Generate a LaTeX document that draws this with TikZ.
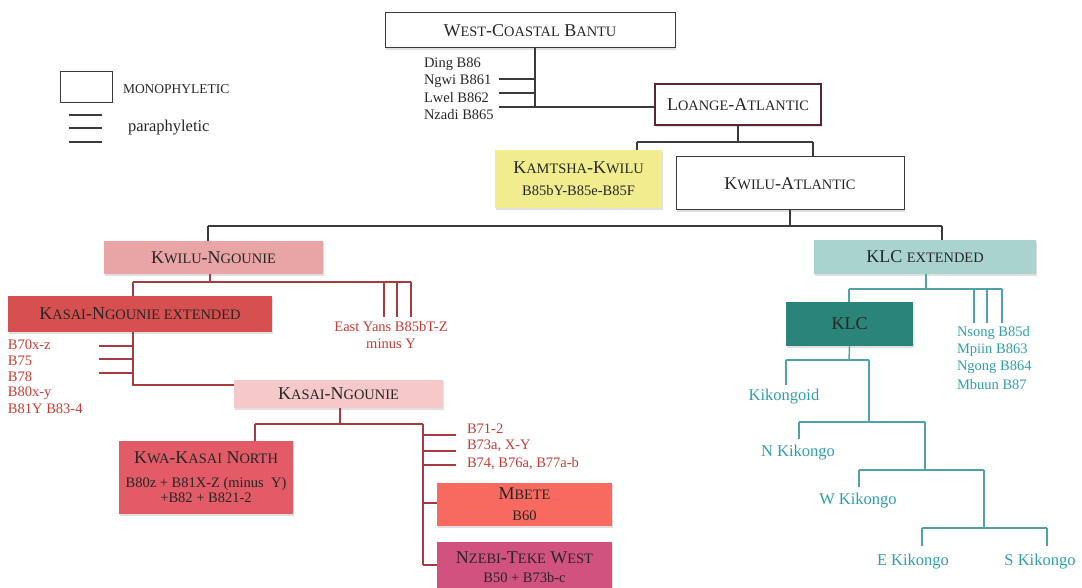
\documentclass[tikz,border=0pt]{standalone}
\usepackage{fontspec}
\setmainfont{Liberation Serif}
\usetikzlibrary{shadows}

\definecolor{ink}{HTML}{262626}
\definecolor{blkline}{HTML}{3A3A3A}
\definecolor{maroon}{HTML}{5E2430}
\definecolor{kamtsha}{HTML}{F1ED8E}
\definecolor{kwng}{HTML}{E9A4A6}
\definecolor{kne}{HTML}{D6504F}
\definecolor{kasng}{HTML}{F5C8CA}
\definecolor{kkn}{HTML}{E25B67}
\definecolor{mbete}{HTML}{F86A5F}
\definecolor{nzebi}{HTML}{D2527F}
\definecolor{klcext}{HTML}{A9D3CF}
\definecolor{klc}{HTML}{2B8479}
\definecolor{redline}{HTML}{A53A40}
\definecolor{redtxt}{HTML}{C63B35}
\definecolor{tealline}{HTML}{4FA2A6}
\definecolor{tealtxt}{HTML}{2E9FA9}

\newcommand\headfont{\fontsize{18}{20}\selectfont}
\newcommand\bodyfont{\fontsize{14.5}{17}\selectfont}
\newcommand\labfont{\fontsize{14.5}{17}\selectfont}
\newcommand\kikfont{\fontsize{16.5}{19}\selectfont}
% fake small capitals: the lower-case part of a name set as smaller capitals
\newcommand\scx[1]{{\fontsize{14.4}{16}\selectfont #1}}

\begin{document}
\begin{tikzpicture}[x=1pt,y=-1pt,
  every node/.style={inner sep=0pt, outer sep=0pt},
  box/.style={rectangle, align=center, font=\headfont, text=ink,
    drop shadow={shadow xshift=0.8pt, shadow yshift=-1.8pt, opacity=0.25}},
  whitebox/.style={box, fill=white, draw=blkline, line width=1pt},
  blk/.style={draw=blkline, line width=1.2pt},
  red/.style={draw=redline, line width=1.2pt},
  teal/.style={draw=tealline, line width=1.4pt},
  labblack/.style={anchor=west, font=\labfont, text=ink},
  labred/.style={anchor=west, font=\labfont, text=redtxt},
  labteal/.style={anchor=west, font=\labfont, text=tealtxt},
  kik/.style={font=\kikfont, text=tealtxt},
]
\useasboundingbox (0,0) rectangle (1082,588);
\clip (0,0) rectangle (1082,588);

% ---------- legend ----------
\node[draw=blkline, line width=0.9pt, minimum width=52pt, minimum height=31pt] (legbox) at (86,86.5) {};
\node[anchor=west, font=\fontsize{13.5}{15}\selectfont, text=ink] (legmono) at (123,89) {MONOPHYLETIC};
\node[anchor=west, font=\fontsize{16.5}{18}\selectfont, text=ink] (legpara) at (128,128) {paraphyletic};
\foreach \yy in {115,128,142} \draw[blk] (69,\yy) -- (102,\yy);

% ---------- top of the tree ----------
\node[whitebox, minimum width=290pt, minimum height=35pt] (wcb) at (530,30.5)
  {W\scx{EST}-C\scx{OASTAL} B\scx{ANTU}};
\node[whitebox, draw=maroon, line width=1.6pt, minimum width=166pt, minimum height=41pt] (loange) at (738,104.5)
  {L\scx{OANGE}-A\scx{TLANTIC}};
\node[box, fill=kamtsha, minimum width=167pt, minimum height=58pt] (kamtsha) at (578.5,179)
  {K\scx{AMTSHA}-K\scx{WILU}\\[2pt]\bodyfont B85bY-B85e-B85F};
\node[whitebox, minimum width=228pt, minimum height=53pt] (kwat) at (790,183.5)
  {K\scx{WILU}-A\scx{TLANTIC}};

\node[labblack] (ding) at (424,64) {Ding B86};
\node[labblack] (ngwi) at (424,81) {Ngwi B861};
\node[labblack] (lwel) at (424,98) {Lwel B862};
\node[labblack] (nzadi) at (424,115) {Nzadi B865};

\coordinate (wj) at (535,107);
\draw[blk] (wcb.south -| wj) -- (wj) -- (wj -| loange.west);
\draw[blk] (499,79) -- (wj |- 0,79);
\draw[blk] (499,93) -- (wj |- 0,93);
\draw[blk] (499,107) -- (wj);

\coordinate (lj) at (738,142);
\draw[blk] (loange.south) -- (lj);
\draw[blk] (637,142) -- (813,142);
\draw[blk] (637,142) -- (637,0 |- kamtsha.north);
\draw[blk] (813,142) -- (813,0 |- kwat.north);

% ---------- first split ----------
\node[box, fill=kwng, minimum width=219pt, minimum height=33pt] (kwng) at (213.5,257.5)
  {K\scx{WILU}-N\scx{GOUNIE}};
\node[box, fill=klcext, minimum width=222pt, minimum height=34pt] (klcext) at (925,257)
  {KLC \scx{EXTENDED}};

\draw[blk] (kwat.south) -- (790,226);
\draw[blk] (208,226) -- (942,226);
\draw[blk] (208,226) -- (208,0 |- kwng.north);
\draw[blk] (942,226) -- (942,0 |- klcext.north);

% ---------- Kwilu-Ngounie branch ----------
\node[box, fill=kne, minimum width=264pt, minimum height=36pt] (kne) at (140,314)
  {K\scx{ASAI}-N\scx{GOUNIE EXTENDED}};
\node[anchor=center, align=center, font=\labfont, text=redtxt] (eyans) at (391,335.5)
  {East Yans B85bT-Z\\[0pt]minus Y};

\draw[red] (210,0 |- kwng.south) -- (210,282);
\draw[red] (133,282) -- (411,282);
\draw[red] (133,282) -- (133,0 |- kne.north);
\draw[red] (411,282) -- (411,317);
\draw[red] (384,283) -- (384,317);
\draw[red] (397,283) -- (397,317);

\node[box, fill=kasng, minimum width=209pt, minimum height=28pt] (kasng) at (338.5,394)
  {K\scx{ASAI}-N\scx{GOUNIE}};

\node[labred] (b70) at (8,345) {B70x-z};
\node[labred] (b75) at (8,361) {B75};
\node[labred] (b78) at (8,377) {B78};
\node[labred] (b80) at (8,393) {B80x-y};
\node[labred] (b81) at (8,409) {B81Y B83-4};

\coordinate (kj) at (133,385);
\draw[red] (133,0 |- kne.south) -- (kj) -- (kj -| kasng.west);
\draw[red] (99,346) -- (133,346);
\draw[red] (99,359) -- (133,359);
\draw[red] (99,373) -- (133,373);

% ---------- Kasai-Ngounie branch ----------
\node[box, fill=kkn, minimum width=174pt, minimum height=73pt] (kkn) at (206,477.5)
  {K\scx{WA}-K\scx{ASAI} N\scx{ORTH}\\[4pt]\bodyfont B80z + B81X-Z (minus~~Y)\\[-5pt]\bodyfont +B82 + B821-2};
\node[box, fill=mbete, minimum width=175pt, minimum height=43pt] (mbete) at (524.5,504.5)
  {M\scx{BETE}\\[1pt]\bodyfont B60};
\node[box, fill=nzebi, minimum width=175pt, minimum height=50pt] (nzebi) at (524.5,567)
  {N\scx{ZEBI}-T\scx{EKE} W\scx{EST}\\[-1pt]\bodyfont B50 + B73b-c};

\node[labred] (b71) at (467,429) {B71-2};
\node[labred] (b73) at (467,446) {B73a, X-Y};
\node[labred] (b74) at (467,464) {B74, B76a, B77a-b};

\draw[red] (340,0 |- kasng.south) -- (340,424);
\draw[red] (255,424) -- (423,424);
\draw[red] (255,424) -- (255,0 |- kkn.north);
\draw[red] (423,424) -- (423,565);
\draw[red] (423,435) -- (456,435);
\draw[red] (423,451) -- (456,451);
\draw[red] (423,465) -- (456,465);
\draw[red] (423,503) -- (mbete.west |- 0,503);
\draw[red] (423,565) -- (nzebi.west |- 0,565);

% ---------- KLC branch ----------
\node[box, fill=klc, minimum width=127pt, minimum height=44pt] (klc) at (849.5,324) {KLC};

\node[labteal] (nsong) at (957,333) {Nsong B85d};
\node[labteal] (mpiin) at (957,350) {Mpiin B863};
\node[labteal] (ngong) at (957,367) {Ngong B864};
\node[labteal] (mbuun) at (957,385) {Mbuun B87};

\draw[teal] (926,0 |- klcext.south) -- (926,289);
\draw[teal] (849,289) -- (1002,289);
\draw[teal] (849,289) -- (849,0 |- klc.north);
\draw[teal] (974,289) -- (974,323);
\draw[teal] (987,289) -- (987,323);
\draw[teal] (1002,289) -- (1002,323);

\node[kik] (kikoid) at (784,397) {Kikongoid};
\node[kik] (nkik) at (798,453) {N Kikongo};
\node[kik] (wkik) at (858,501) {W Kikongo};
\node[kik] (ekik) at (913,562) {E Kikongo};
\node[kik] (skik) at (1040,562) {S Kikongo};

\draw[teal] (klc.south) -- (849,360);
\draw[teal] (786,360) -- (869,360);
\draw[teal] (786,360) -- (786,385);
\draw[teal] (869,360) -- (869,422);
\draw[teal] (799,422) -- (925,422);
\draw[teal] (799,422) -- (799,439);
\draw[teal] (925,422) -- (925,470);
\draw[teal] (859,470) -- (984,470);
\draw[teal] (859,470) -- (859,487);
\draw[teal] (984,470) -- (984,528);
\draw[teal] (922,528) -- (1047,528);
\draw[teal] (922,528) -- (922,546);
\draw[teal] (1047,528) -- (1047,546);
\end{tikzpicture}
\end{document}
